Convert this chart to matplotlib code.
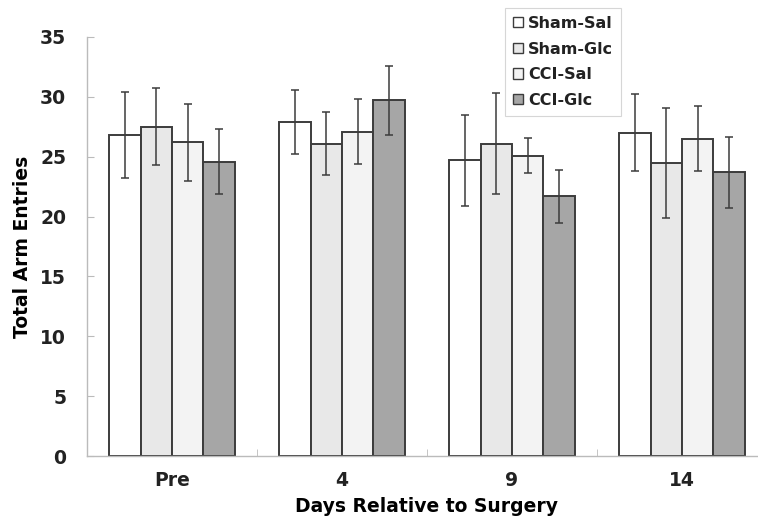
import matplotlib.pyplot as plt
import numpy as np

# data
days = ['Pre', '4', '9', '14']
groups = ['Sham-Sal', 'Sham-Glc', 'CCI-Sal', 'CCI-Glc']
means = {
    'Sham-Sal': [26.8, 27.9, 24.7, 27.0],
    'Sham-Glc': [27.5, 26.1, 26.1, 24.5],
    'CCI-Sal':  [26.2, 27.1, 25.1, 26.5],
    'CCI-Glc':  [24.6, 29.7, 21.7, 23.7],
}
errs = {
    'Sham-Sal': [3.6, 2.7, 3.8, 3.2],
    'Sham-Glc': [3.2, 2.6, 4.2, 4.6],
    'CCI-Sal':  [3.2, 2.7, 1.5, 2.7],
    'CCI-Glc':  [2.7, 2.9, 2.2, 2.95],
}
colors = ['#ffffff', '#e8e8e8', '#f3f3f3', '#a6a6a6']

plt.rcParams['font.family'] = ['DejaVu Sans']
plt.rcParams['font.weight'] = 'bold'
plt.rcParams['text.color'] = '#222222'
plt.rcParams['xtick.labelcolor'] = '#222222'
plt.rcParams['ytick.labelcolor'] = '#222222'

fig = plt.figure(figsize=(7.58, 5.29), dpi=100)
ax = fig.add_axes([87 / 758, 1 - 456 / 529, 680 / 758, 419 / 529])

x = np.arange(len(days))
w = 0.185
for i, g in enumerate(groups):
    ax.bar(x + (i - 1.5) * w, means[g], w, color=colors[i], edgecolor='#3c3c3c',
           linewidth=1.4, label=g, zorder=2)
    ax.errorbar(x + (i - 1.5) * w, means[g], yerr=errs[g], fmt='none',
                ecolor='#3c3c3c', elinewidth=1.1, capsize=2.8, capthick=1.1, zorder=3)

ax.set_xlim(-0.5, 3.5)
ax.set_ylim(0, 35)
ax.set_yticks(range(0, 36, 5))
ax.set_xticks(x)
ax.set_xticklabels(days, fontsize=13.5, fontweight='bold')
ax.set_xticks(x[:-1] + 0.5, minor=True)
ax.tick_params(axis='x', which='major', length=0, pad=11)
ax.tick_params(axis='x', which='minor', direction='in', length=5, color='#bbbbbb')
ax.tick_params(axis='y', direction='in', length=5, color='#bbbbbb', labelsize=13.5, pad=15)
for lab in ax.get_yticklabels():
    lab.set_fontweight('bold')

for s in ['top', 'right']:
    ax.spines[s].set_visible(False)
for s in ['left', 'bottom']:
    ax.spines[s].set_color('#bbbbbb')
    ax.spines[s].set_linewidth(1.0)

ax.set_ylabel('Total Arm Entries', fontsize=13.5, fontweight='bold', labelpad=6)
ax.set_xlabel('Days Relative to Surgery', fontsize=13.5, fontweight='bold', labelpad=5)

leg = fig.legend(loc='upper left', bbox_to_anchor=(505 / 758, 1 - 8 / 529),
                 frameon=True, fancybox=False, handlelength=0.6,
                 handleheight=0.6, handletextpad=0.35, labelspacing=0.66,
                 borderpad=0.5, borderaxespad=0,
                 prop={'weight': 'bold', 'size': 11.5})
leg.get_frame().set_edgecolor('#cccccc')
leg.get_frame().set_linewidth(0.8)
for h in leg.legend_handles:
    h.set_edgecolor('#3c3c3c')
    h.set_linewidth(1.0)

fig.savefig('out.png', dpi=100)
